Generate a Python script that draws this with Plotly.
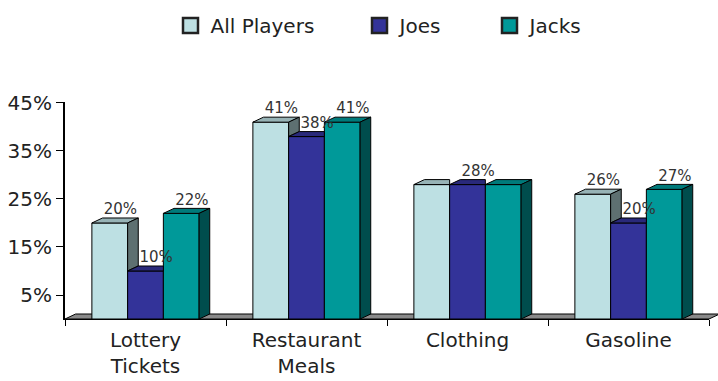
import plotly.graph_objects as go

categories = ["Lottery<br>Tickets", "Restaurant<br>Meals", "Clothing", "Gasoline"]
series_names = ["All Players", "Joes", "Jacks"]
all_players = [20, 41, 28, 26]
joes = [10, 38, 28, 20]
jacks = [22, 41, 28, 27]
# which data labels are shown (the reference shows one label for Clothing)
all_players_label = [True, True, False, True]
joes_label = [True, True, True, True]
jacks_label = [True, True, False, True]
y_tick_vals = [5, 15, 25, 35, 45]
y_tick_text = ["5%", "15%", "25%", "35%", "45%"]

series_values = [all_players, joes, jacks]
series_labels = [all_players_label, joes_label, jacks_label]
front_colors = ["#BDE0E3", "#333399", "#009999"]
top_colors = ["#97B3B6", "#29297A", "#007A7A"]
side_colors = ["#5E7071", "#1A1A4D", "#004D4D"]

FONT = "DejaVu Sans"
BARGAP = 0.334
DEPTH_X = 0.066   # category units
DEPTH_Y = 1.04    # percent units
Y_MAX = 45.2
X_RANGE = [-0.5, 3.5]
LEGEND_X = [170.5, 359.5, 489.5]  # px, left of each legend entry

n_series = len(series_values)
group_w = 1 - BARGAP
bar_w = group_w / n_series
xs = list(range(len(categories)))

fig = go.Figure()

# front faces: real bars
for k, (name, vals) in enumerate(zip(series_names, series_values)):
    fig.add_trace(go.Bar(
        x=xs, y=vals, name=name, showlegend=False,
        marker=dict(color=front_colors[k], line=dict(color="#000000", width=1)),
        hoverinfo="skip",
    ))

# 3D faces (top and side) derived from the data
for k, vals in enumerate(series_values):
    tx, ty, sx, sy = [], [], [], []
    for i, v in enumerate(vals):
        x0 = xs[i] - group_w / 2 + k * bar_w
        x1 = x0 + bar_w
        vn = series_values[k + 1][i] if k < n_series - 1 else None
        if vn is not None and vn >= v:
            tx += [x0, x0 + DEPTH_X, x1, x1, x0, None]
        else:
            tx += [x0, x0 + DEPTH_X, x1 + DEPTH_X, x1, x0, None]
        ty += [v, v + DEPTH_Y, v + DEPTH_Y, v, v, None]
        if vn is None:
            lo = 0
        elif vn < v:
            lo = vn
        else:
            lo = None
        if lo is not None:
            sx += [x1, x1 + DEPTH_X, x1 + DEPTH_X, x1, x1, None]
            sy += [lo, lo + DEPTH_Y, v + DEPTH_Y, v, lo, None]
    fig.add_trace(go.Scatter(x=tx, y=ty, mode="lines", fill="toself",
                             fillcolor=top_colors[k], line=dict(color="#000000", width=1),
                             showlegend=False, hoverinfo="skip"))
    if sx:
        fig.add_trace(go.Scatter(x=sx, y=sy, mode="lines", fill="toself",
                                 fillcolor=side_colors[k], line=dict(color="#000000", width=1),
                                 showlegend=False, hoverinfo="skip"))

# data labels
for k, vals in enumerate(series_values):
    cx = [xs[i] - group_w / 2 + (k + 0.5) * bar_w + DEPTH_X for i in range(len(vals))]
    fig.add_trace(go.Scatter(
        x=cx, y=[v + DEPTH_Y for v in vals], mode="text",
        text=[f"{v}%" if show else "" for v, show in zip(vals, series_labels[k])],
        textposition="top center",
        textfont=dict(family=FONT, size=15, color="#333333"),
        showlegend=False, hoverinfo="skip", cliponaxis=False,
    ))

# legend entries (one legend per series so spacing matches)
legend_ids = ["legend", "legend2", "legend3"]
for k, name in enumerate(series_names):
    fig.add_trace(go.Scatter(
        x=[None], y=[None], mode="markers", name=name, legend=legend_ids[k],
        marker=dict(symbol="square", size=15, color=front_colors[k],
                    line=dict(color="#222222", width=2.5)),
        hoverinfo="skip",
    ))

# floor slab
dxf = DEPTH_X / (X_RANGE[1] - X_RANGE[0])
dyf = DEPTH_Y / Y_MAX
fig.add_shape(type="path", xref="x domain", yref="y domain",
              path=f"M 0,0 L {dxf},{dyf} L {1 + dxf},{dyf} L 1,0 Z",
              fillcolor="#8A8A8A", line=dict(color="#000000", width=1), layer="below")

legend_common = dict(orientation="h", xref="container", yref="container",
                     y=1 - 6 / 381, xanchor="left", yanchor="top",
                     font=dict(family=FONT, size=20, color="#222222"),
                     bgcolor="rgba(0,0,0,0)")

fig.update_layout(
    width=718, height=381,
    margin=dict(l=65, r=9, t=102, b=62, autoexpand=False),
    paper_bgcolor="white", plot_bgcolor="white",
    barmode="group", bargap=BARGAP, bargroupgap=0,
    font=dict(family=FONT, size=20, color="#222222"),
    showlegend=True,
    legend=dict(x=LEGEND_X[0] / 718, **legend_common),
    legend2=dict(x=LEGEND_X[1] / 718, **legend_common),
    legend3=dict(x=LEGEND_X[2] / 718, **legend_common),
    xaxis=dict(range=X_RANGE, tickvals=xs, ticktext=categories, ticks="",
               showline=True, linecolor="#000000", linewidth=1,
               showgrid=False, zeroline=False, ticklabelstandoff=3, automargin=False,
               minor=dict(tickvals=[x + 0.5 for x in [-1] + xs], ticks="outside",
                          ticklen=6, tickcolor="#000000", showgrid=False),
               tickfont=dict(family=FONT, size=20, color="#222222")),
    yaxis=dict(range=[0, Y_MAX], tickvals=y_tick_vals, ticktext=y_tick_text,
               ticks="outside", ticklen=7, tickcolor="#000000", tickwidth=1,
               showline=True, linecolor="#000000", linewidth=2,
               showgrid=False, zeroline=False, automargin=False,
               tickfont=dict(family=FONT, size=20, color="#222222")),
)

fig.write_html("out.html")
